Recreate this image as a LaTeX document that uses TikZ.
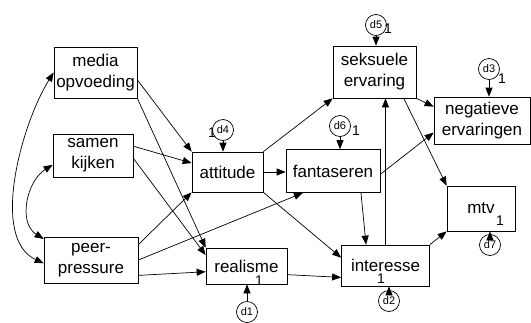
\documentclass[tikz,border=0pt]{standalone}
\usepackage{fontspec}
\setmainfont{Liberation Sans}
\usetikzlibrary{arrows.meta}

\begin{document}
\begin{tikzpicture}[x=1pt,y=-1pt,
  varbox/.style={draw, line width=0.7pt, inner sep=0pt, align=center,
    font=\fontsize{17}{21}\selectfont},
  errterm/.style={draw, circle, line width=0.7pt, minimum size=21pt, inner sep=0pt,
    font=\fontsize{11}{11}\selectfont},
  one/.style={inner sep=0pt, font=\fontsize{14}{14}\selectfont},
  regr/.style={-{Triangle[length=9pt,width=7pt]}, line width=0.7pt},
  covar/.style={{Triangle[length=9pt,width=7pt]}-{Triangle[length=9pt,width=7pt]}, line width=0.7pt}]

\useasboundingbox (0,0) rectangle (531,322);

% Observed variables
\node[varbox, minimum width=83pt, minimum height=51pt] (media) at (95.5,72.5) {media\\opvoeding};
\node[varbox, minimum width=80pt, minimum height=43pt] (samen) at (93,155.5) {samen\\kijken};
\node[varbox, minimum width=94pt, minimum height=46pt] (peer) at (91,260) {peer-\\pressure};
\node[varbox, minimum width=71pt, minimum height=40pt] (attitude) at (227.5,172) {attitude};
\node[varbox, minimum width=94pt, minimum height=43pt] (fantaseren) at (333,171) {fantaseren};
\node[varbox, minimum width=81pt, minimum height=36pt] (realisme) at (246.5,266) {realisme};
\node[varbox, minimum width=88pt, minimum height=41pt] (interesse) at (385.5,265.5) {interesse};
\node[varbox, minimum width=68pt, minimum height=45pt] (mtv) at (481,208.5) {mtv};
\node[varbox, minimum width=83pt, minimum height=52pt] (seksueel) at (374.5,72) {seksuele\\ervaring};
\node[varbox, minimum width=96pt, minimum height=47pt] (negatief) at (482,120.5) {negatieve\\ervaringen};

% Error terms
\node[errterm] (d1) at (247,312) {d1};
\node[errterm] (d2) at (389,301) {d2};
\node[errterm] (d3) at (489,69) {d3};
\node[errterm] (d4) at (223,130) {d4};
\node[errterm] (d5) at (376,25) {d5};
\node[errterm] (d6) at (340,126) {d6};
\node[errterm] (d7) at (490,245) {d7};

% Fixed weights
\node[one] (w1) at (259,281) {1};
\node[one] (w2) at (381,279) {1};
\node[one] (w3) at (502,79) {1};
\node[one] (w4) at (212,133) {1};
\node[one] (w5) at (388,29) {1};
\node[one] (w6) at (356,131) {1};
\node[one] (w7) at (500,221) {1};

% Regression paths
\draw[regr] (media.-10) -- (attitude.north west);
\draw[regr] (media.south east) -- (realisme.north west);
\draw[regr] (samen.13) -- (attitude.166);
\draw[regr] (samen.-4) -- (realisme.165);
\draw[regr] (peer.18) -- (attitude.south west);
\draw[regr] (peer.east) -- (fantaseren.-144);
\draw[regr] (peer.-18) -- (realisme.-172);
\draw[regr] (attitude.east) -- (attitude.east -| fantaseren.west);
\draw[regr] (attitude.north east) -- (seksueel.south west);
\draw[regr] (attitude.south east) -- (interesse.170);
\draw[regr] (realisme.-12) -- (interesse.-165);
\draw[regr] (fantaseren.-38) -- (interesse.133);
\draw[regr] (fantaseren.-4) -- (negatief.-166);
\draw[regr] (interesse.north) -- (interesse.north |- seksueel.south);
\draw[regr] (seksueel.south east) -- (negatief.164);
\draw[regr] (seksueel.-42) -- (mtv.north west);
\draw[regr] (interesse.north east) -- (mtv.south west);

% Covariances
\draw[covar] (media.west) to[out=238,in=155,looseness=0.8] (peer.-176);
\draw[covar] (samen.-167) to[out=212,in=148,looseness=1.05] (peer.156);

% Error arrows
\draw[regr] (d1) -- (d1 |- realisme.south);
\draw[regr] (d2) -- (d2 |- interesse.south);
\draw[regr] (d3) -- (d3 |- negatief.north);
\draw[regr] (d4) -- (d4 |- attitude.north);
\draw[regr] (d5) -- (d5 |- seksueel.north);
\draw[regr] (d6) -- (d6 |- fantaseren.north);
\draw[regr] (d7) -- (d7 |- mtv.south);

\end{tikzpicture}
\end{document}
